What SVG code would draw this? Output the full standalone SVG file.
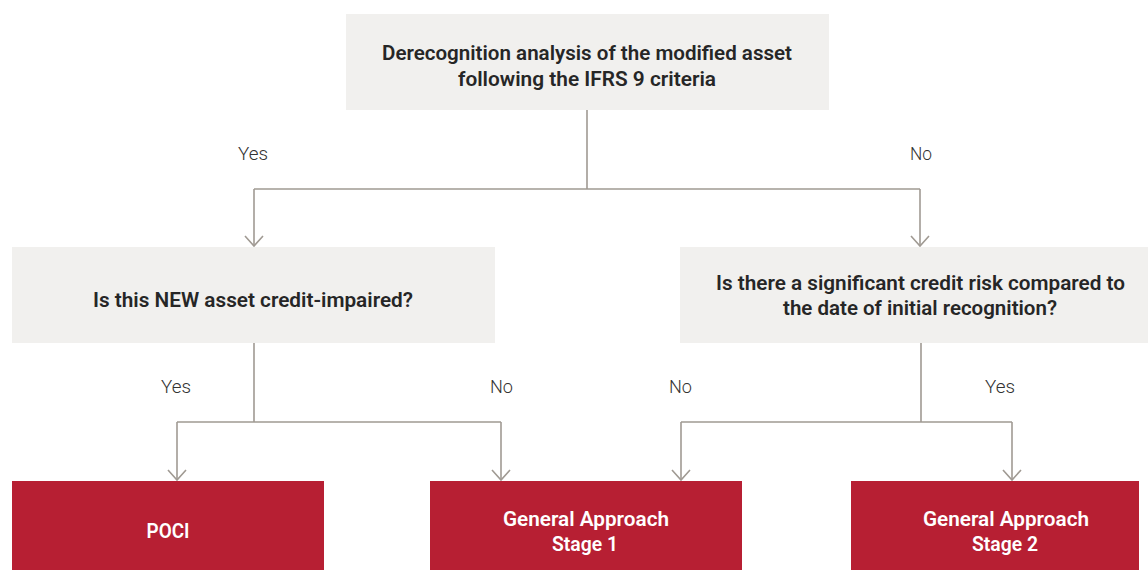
<svg xmlns="http://www.w3.org/2000/svg" width="1148" height="570" viewBox="0 0 1148 570">
  <defs>
    <style>
      .q { fill: #f1f0ee; }
      .r { fill: #b71f33; }
      .qt { font-family: Roboto, "Liberation Sans", sans-serif; font-weight: 600; font-size: 19.5px; fill: #262626; text-anchor: middle; }
      .rt { font-family: Roboto, "Liberation Sans", sans-serif; font-weight: 600; font-size: 19.5px; fill: #ffffff; text-anchor: middle; }
      .lbl { font-family: Roboto, "Liberation Sans", sans-serif; font-weight: 300; font-size: 19px; fill: #333333; }
      .ln { fill: none; stroke: #a09a93; stroke-width: 1.6; }
    </style>
    <marker id="chev" markerUnits="userSpaceOnUse" markerWidth="22" markerHeight="22" viewBox="0 0 22 22" refX="11" refY="11" orient="auto">
      <path d="M1,2 L11,11 L1,20" fill="none" stroke="#a09a93" stroke-width="1.6"/>
    </marker>
  </defs>
  <rect width="1148" height="570" fill="#ffffff"/>

  <!-- connectors -->
  <g id="connectors">
    <path class="ln" d="M587,110 V189 M254,189 H920"/>
    <path class="ln" d="M254,189 V246" marker-end="url(#chev)"/>
    <path class="ln" d="M920,189 V246" marker-end="url(#chev)"/>
    <path class="ln" d="M254,343 V422 M177,422 H501"/>
    <path class="ln" d="M177,422 V480" marker-end="url(#chev)"/>
    <path class="ln" d="M501,422 V480" marker-end="url(#chev)"/>
    <path class="ln" d="M921,343 V422 M681,422 H1012"/>
    <path class="ln" d="M681,422 V480" marker-end="url(#chev)"/>
    <path class="ln" d="M1012,422 V480" marker-end="url(#chev)"/>
    <text class="lbl" x="238" y="160" textLength="30" lengthAdjust="spacingAndGlyphs">Yes</text>
    <text class="lbl" x="910" y="160" textLength="22" lengthAdjust="spacingAndGlyphs">No</text>
    <text class="lbl" x="161" y="393" textLength="30" lengthAdjust="spacingAndGlyphs">Yes</text>
    <text class="lbl" x="490" y="393" textLength="23" lengthAdjust="spacingAndGlyphs">No</text>
    <text class="lbl" x="669" y="393" textLength="23" lengthAdjust="spacingAndGlyphs">No</text>
    <text class="lbl" x="985" y="393" textLength="30" lengthAdjust="spacingAndGlyphs">Yes</text>
  </g>

  <g id="derecognition">
    <rect class="q" x="346" y="14" width="483" height="96"/>
    <text class="qt" x="587" y="60" textLength="410" lengthAdjust="spacingAndGlyphs">Derecognition analysis of the modified asset</text>
    <text class="qt" x="587" y="86" textLength="258" lengthAdjust="spacingAndGlyphs">following the IFRS 9 criteria</text>
  </g>

  <g id="credit-impaired">
    <rect class="q" x="12" y="247" width="483" height="96"/>
    <text class="qt" x="253" y="307" textLength="320" lengthAdjust="spacingAndGlyphs">Is this NEW asset credit-impaired?</text>
  </g>

  <g id="significant-risk">
    <rect class="q" x="680" y="247" width="468" height="96"/>
    <text class="qt" x="920.5" y="290" textLength="409" lengthAdjust="spacingAndGlyphs">Is there a significant credit risk compared to</text>
    <text class="qt" x="920" y="315" textLength="274" lengthAdjust="spacingAndGlyphs">the date of initial recognition?</text>
  </g>

  <g id="poci">
    <rect class="r" x="12" y="481" width="312" height="89"/>
    <text class="rt" x="168" y="538" textLength="43" lengthAdjust="spacingAndGlyphs">POCI</text>
  </g>

  <g id="stage-1">
    <rect class="r" x="430" y="481" width="312" height="89"/>
    <text class="rt" x="586" y="526" textLength="166" lengthAdjust="spacingAndGlyphs">General Approach</text>
    <text class="rt" x="585" y="551" textLength="66" lengthAdjust="spacingAndGlyphs">Stage 1</text>
  </g>

  <g id="stage-2">
    <rect class="r" x="851" y="481" width="288" height="89"/>
    <text class="rt" x="1006" y="526" textLength="166" lengthAdjust="spacingAndGlyphs">General Approach</text>
    <text class="rt" x="1005" y="551" textLength="66" lengthAdjust="spacingAndGlyphs">Stage 2</text>
  </g>
</svg>
